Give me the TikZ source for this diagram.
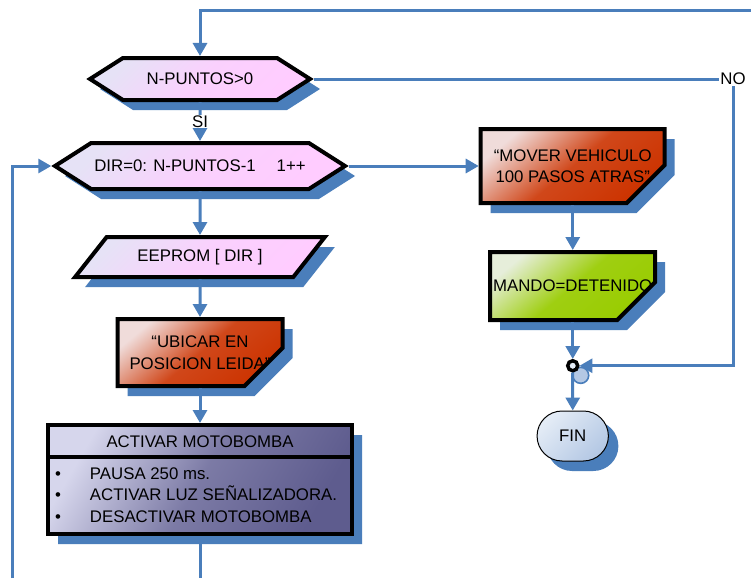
\documentclass[tikz,border=0pt]{standalone}
\usepackage{fontspec}
\setmainfont{Liberation Sans}
\usetikzlibrary{arrows.meta,positioning,shapes.geometric,shapes.symbols,shapes.misc,shapes.multipart,shadows,backgrounds}

\definecolor{lineblue}{HTML}{4A7EBB}
\definecolor{hexpink}{HTML}{FFCCFF}
\definecolor{hexlight}{HTML}{E6E2F6}
\definecolor{redbox}{HTML}{CC3300}
\definecolor{redlight}{HTML}{F0DCDA}
\definecolor{greenbox}{HTML}{99CC00}
\definecolor{greenlight}{HTML}{E6EEDA}
\definecolor{slatebox}{HTML}{5E5C8E}
\definecolor{slatelight}{HTML}{D6D6EC}
\definecolor{finblue}{HTML}{B4C8E4}
\definecolor{finlight}{HTML}{E4ECF6}

% outline of a box with its lower right corner cut off, drawn round a node
\newcommand\cutshape[2]{%
  \path[outlined,#2] ([shift={(2pt,-2pt)}]#1.north west) -- ([shift={(-2pt,-2pt)}]#1.north east)
    -- ([shift={(-2pt,40pt)}]#1.south east) -- ([shift={(-40pt,2pt)}]#1.south east)
    -- ([shift={(2pt,2pt)}]#1.south west) -- cycle;}

\begin{document}
\begin{tikzpicture}[x=1pt,y=-1pt,font=\fontsize{16.8}{21.5}\selectfont,
  blueshadow/.style={drop shadow={shadow xshift=10pt,shadow yshift=-10pt,fill=lineblue,opacity=1}},
  outlined/.style={draw=black,line width=4pt,blueshadow,align=center,inner sep=2pt},
  hexbox/.style={outlined,signal,signal to=west and east,signal pointer angle=65,
    top color=hexlight,bottom color=hexpink,middle color=hexpink!80!hexlight,shading angle=45},
  iobox/.style={outlined,trapezium,trapezium left angle=42,trapezium right angle=138,
    trapezium stretches=true,top color=hexlight,bottom color=hexpink,middle color=hexpink!80!hexlight,shading angle=45},
  cutbox/.style={align=center,inner sep=2pt,outer sep=0pt},
  redfill/.style={top color=redlight,bottom color=redbox,middle color=redbox!88!redlight,shading angle=40},
  greenfill/.style={top color=greenlight,bottom color=greenbox,middle color=greenbox!92!greenlight,shading angle=40},
  merge/.style={circle,draw=black,line width=3.5pt,fill=finlight,minimum size=10pt,inner sep=0pt,
    drop shadow={shadow xshift=5pt,shadow yshift=-6pt,shadow scale=1.6,fill=finblue,draw=lineblue,line width=1pt,opacity=1}},
  endbox/.style={rounded rectangle,draw=black,line width=1pt,blueshadow,top color=finlight,
    bottom color=finblue,shading angle=45,minimum width=78pt,minimum height=50pt},
  flow/.style={draw=lineblue,line width=3pt},
  arr/.style={flow,-{Triangle[length=13pt,width=14pt]}}]
\useasboundingbox (0,0) rectangle (751,578);

% left column
\node[hexbox,minimum width=220pt,minimum height=42pt] (cnt) at (200,79) {N-PUNTOS>0};
\node[hexbox,minimum width=290pt,minimum height=46pt,below=39pt of cnt] (loop) {DIR=0: N-PUNTOS-1\hspace{21pt}1++};
\node[iobox,minimum width=250pt,minimum height=40pt,below=44pt of loop] (read) {EEPROM [ DIR ]};
\node[cutbox,minimum width=169pt,minimum height=71pt,below=38pt of read] (place) {“UBICAR EN\\POSICION LEIDA”};
\node[rectangle split,rectangle split parts=2,rectangle split part align={center,left},
  draw=black,line width=4pt,blueshadow,top color=slatelight,bottom color=slatebox,
  middle color=slatebox!75!slatelight,shading angle=60,
  minimum width=304pt,inner xsep=4pt,inner ysep=0pt,below=35pt of place] (pump)
  {\rule[-8pt]{0pt}{28pt}ACTIVAR MOTOBOMBA
   \nodepart{second}\begin{tabular}{@{}l@{}}
   \rule{0pt}{20pt}\makebox[38pt][l]{\hspace{3pt}\textbullet}PAUSA 250 ms.\\
   \makebox[38pt][l]{\hspace{3pt}\textbullet}ACTIVAR LUZ SEÑALIZADORA.\\
   \rule[-10pt]{0pt}{10pt}\makebox[38pt][l]{\hspace{3pt}\textbullet}DESACTIVAR MOTOBOMBA
   \end{tabular}};

% right column
\node[cutbox,minimum width=188pt,minimum height=78pt,right=130pt of loop] (back) {“MOVER VEHICULO\\100 PASOS ATRAS”};
\node[cutbox,minimum width=169pt,minimum height=72pt,below=45pt of back] (stop) {MANDO=DETENIDO};
\node[merge,below=37pt of stop] (join) {};
\node[endbox,below=38pt of join] (fin) {FIN};
\node[inner sep=1pt] (no) at (733,79) {NO};

\begin{scope}[on background layer]
  \cutshape{place}{redfill}
  \cutshape{back}{redfill}
  \cutshape{stop}{greenfill}
\end{scope}

\coordinate (topin) at (751,10.7);
\coordinate (leftin) at (12.7,578);

\draw[arr] (topin) -| (cnt.north);
\draw[arr] (cnt) -- node[fill=white,inner sep=1pt] {SI} (loop);
\draw[flow] (cnt.east) -- (no.west);
\draw[arr] (no.south) |- (join.east);
\draw[arr] (leftin) |- (loop.west);
\draw[arr] (loop) -- (read);
\draw[arr] (read) -- (place);
\draw[arr] (place) -- (pump);
\draw[flow] (pump.south) -- (pump.south |- leftin);
\draw[arr] (loop.east) -- (back.west);
\draw[arr] (back) -- (stop);
\draw[arr] (stop) -- (join);
\draw[arr] (join) -- (fin);
\end{tikzpicture}
\end{document}
